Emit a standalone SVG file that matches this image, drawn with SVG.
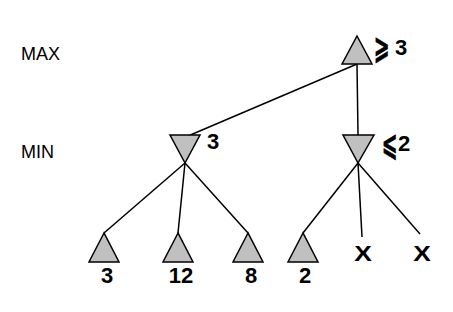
<svg xmlns="http://www.w3.org/2000/svg" width="453" height="312" viewBox="0 0 453 312">
<style>
.tri{fill:#c0c0c0;stroke:#000;stroke-width:1.5;stroke-linejoin:miter}
.edge{stroke:#000;stroke-width:1.5;fill:none}
.lvl{font-family:"Liberation Sans",Arial,sans-serif;font-size:18px;fill:#000}
.val{font-family:"Liberation Sans",Arial,sans-serif;font-size:22px;font-weight:bold;fill:#000}
.sym{font-family:"DejaVu Sans",sans-serif;font-size:22px;font-weight:bold;fill:#000;stroke:#000;stroke-width:0.6}
</style>
<rect width="453" height="312" fill="#fff"/>
<g id="connectors">
<line class="edge" x1="357" y1="64" x2="188" y2="136"/>
<line class="edge" x1="357" y1="64" x2="358" y2="135"/>
<line class="edge" x1="185" y1="163" x2="104" y2="233"/>
<line class="edge" x1="185" y1="163" x2="178" y2="233"/>
<line class="edge" x1="185" y1="163" x2="248" y2="233"/>
<line class="edge" x1="358" y1="163" x2="303" y2="233"/>
<line class="edge" x1="358" y1="163" x2="362" y2="237"/>
<line class="edge" x1="358" y1="163" x2="420" y2="234"/>
</g>
<g id="label-max"><text class="lvl" x="21" y="60">MAX</text></g>
<g id="label-min"><text class="lvl" x="21" y="158">MIN</text></g>
<g id="max-root">
<polygon class="tri" points="357,36 342,64 372,64"/>
<text class="sym" transform="translate(374,58) scale(0.85,1.45)">⩾</text>
<text class="val" x="395" y="55">3</text>
</g>
<g id="min-left">
<polygon class="tri" points="170,135 200,135 185,163"/>
<text class="val" x="207" y="149">3</text>
</g>
<g id="min-right">
<polygon class="tri" points="343,135 374,135 358,163"/>
<text class="sym" transform="translate(382,155) scale(0.85,1.45)">⩽</text>
<text class="val" x="398" y="151">2</text>
</g>
<g id="leaf-3">
<polygon class="tri" points="104,233 89,262 119,262"/>
<text class="val" x="107" y="283" text-anchor="middle">3</text>
</g>
<g id="leaf-12">
<polygon class="tri" points="178,233 163,262 193,262"/>
<text class="val" x="181" y="283" text-anchor="middle">12</text>
</g>
<g id="leaf-8">
<polygon class="tri" points="248,233 233,262 263,262"/>
<text class="val" x="251" y="283" text-anchor="middle">8</text>
</g>
<g id="leaf-2">
<polygon class="tri" points="303,233 288,262 318,262"/>
<text class="val" x="305" y="283" text-anchor="middle">2</text>
</g>
<g id="pruned-1"><text class="val" transform="translate(363,261) scale(1.2,1)" text-anchor="middle">X</text></g>
<g id="pruned-2"><text class="val" transform="translate(422,261) scale(1.2,1)" text-anchor="middle">X</text></g>
</svg>
